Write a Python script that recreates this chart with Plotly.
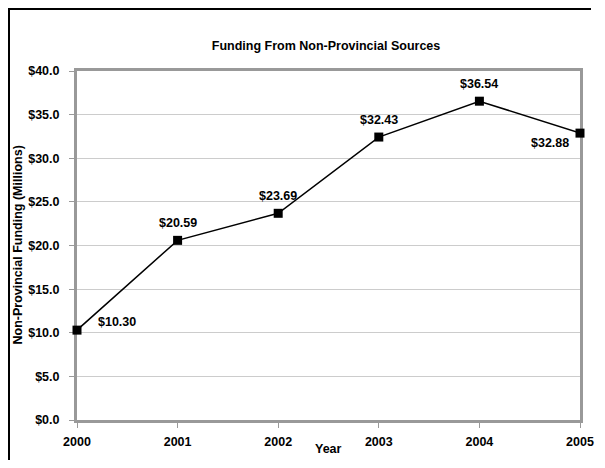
import plotly.graph_objects as go

years = [2000, 2001, 2002, 2003, 2004, 2005]
funding = [10.30, 20.59, 23.69, 32.43, 36.54, 32.88]
labels = ["$10.30", "$20.59", "$23.69", "$32.43", "$36.54", "$32.88"]
y_ticks = [0, 5, 10, 15, 20, 25, 30, 35, 40]
y_tick_text = ["$0.0", "$5.0", "$10.0", "$15.0", "$20.0", "$25.0", "$30.0", "$35.0", "$40.0"]

FONT = "Liberation Sans, Arial, sans-serif"
FS = 12.5

# figure pixel geometry (page is offset by the 8px body margin)
W, H = 589, 452
L, R, T, B = 69, 17, 63, 40
PW, PH = W - L - R, H - T - B

fig = go.Figure()
fig.add_trace(go.Scatter(
    x=years, y=funding, mode="lines+markers",
    line=dict(color="black", width=1.5),
    marker=dict(symbol="square", size=9, color="black"),
    cliponaxis=False, hoverinfo="skip",
))

for i, (xv, yv, t) in enumerate(zip(years, funding, labels)):
    if i == 0:
        xa, xs, ys = "left", 19, 8
    elif i == len(years) - 1:
        xa, xs, ys = "right", -9, -10
    else:
        xa, xs, ys = "center", 0, 17
    fig.add_annotation(x=xv, y=yv, text="<b>" + t + "</b>", showarrow=False,
                       xanchor=xa, yanchor="middle", xshift=xs, yshift=ys,
                       font=dict(family=FONT, size=FS, color="black"))

# axis titles
fig.add_annotation(xref="paper", yref="paper", x=(320 - L) / PW, y=-(441 - (H - B)) / PH,
                   text="<b>Year</b>", showarrow=False, xanchor="center", yanchor="middle",
                   font=dict(family=FONT, size=FS, color="black"))
fig.add_annotation(xref="paper", yref="paper", x=(9 - L) / PW, y=0.5, textangle=-90,
                   text="<b>Non-Provincial Funding (Millions)</b>", showarrow=False,
                   xanchor="center", yanchor="middle",
                   font=dict(family=FONT, size=FS, color="black"))

bx = (0.5 - L) / PW
by = ((H - B) - 0.5) / PH
fig.update_layout(
    width=W, height=H,
    margin=dict(l=L, r=R, t=T, b=B, autoexpand=False),
    paper_bgcolor="white", plot_bgcolor="white",
    showlegend=False,
    font=dict(family=FONT, size=FS, color="black"),
    title=dict(text="<b>Funding From Non-Provincial Sources</b>", x=318 / W, xanchor="center",
               y=1 - 38 / H, yanchor="middle", font=dict(family=FONT, size=FS, color="black")),
    xaxis=dict(
        range=[2000, 2005], tickvals=years, ticktext=["<b>%d</b>" % y for y in years],
        showgrid=False, zeroline=False,
        showline=True, linecolor="#999999", linewidth=3, mirror=True,
        ticks="outside", ticklen=5, tickcolor="#999999", tickwidth=1,
        ticklabelstandoff=3, layer="below traces",
        tickfont=dict(family=FONT, size=FS, color="black"),
    ),
    yaxis=dict(
        range=[0, 40], tickvals=y_ticks, ticktext=["<b>" + t + "</b>" for t in y_tick_text],
        showgrid=True, gridcolor="#cccccc", gridwidth=1, zeroline=False,
        showline=True, linecolor="#999999", linewidth=3, mirror=True,
        ticks="outside", ticklen=5, tickcolor="#999999", tickwidth=1,
        ticklabelstandoff=7, layer="below traces",
        tickfont=dict(family=FONT, size=FS, color="black"),
    ),
    shapes=[
        dict(type="line", xref="paper", yref="paper", x0=bx, x1=bx,
             y0=-B / PH, y1=by + 1.5 / PH,
             line=dict(color="black", width=3), layer="above"),
        dict(type="line", xref="paper", yref="paper", x0=bx - 1.5 / PW, x1=(W - 6 - L) / PW,
             y0=by, y1=by, line=dict(color="black", width=3), layer="above"),
    ],
)

fig.write_html("out.html")
